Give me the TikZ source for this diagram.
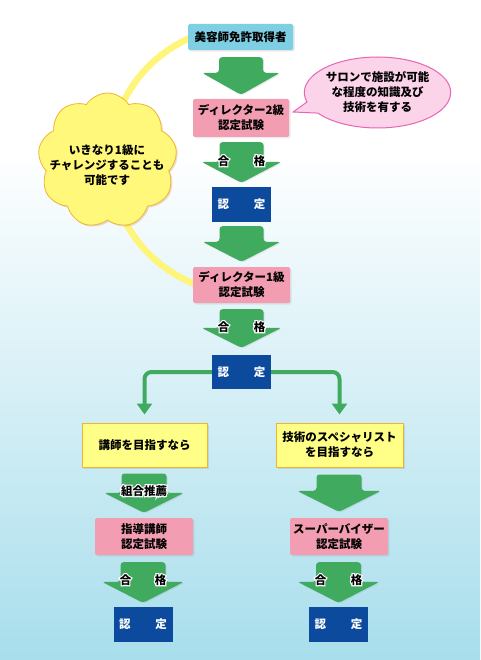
\documentclass[tikz,border=0pt]{standalone}
\usepackage{fontspec}
\setmainfont{Noto Sans CJK JP}
\newfontfamily\halofont{Noto Sans CJK JP}[FakeBold=20]
\usetikzlibrary{calc,shapes.symbols,shapes.callouts,shadows,arrows.meta}
\definecolor{bgblue}{RGB}{168,222,236}
\definecolor{licblue}{RGB}{126,206,228}
\definecolor{pinkfill}{RGB}{243,157,178}
\definecolor{okblue}{RGB}{12,74,158}
\definecolor{fatgreen}{RGB}{64,170,94}
\definecolor{ylfill}{RGB}{255,255,136}
\definecolor{ylborder}{RGB}{240,180,50}
\definecolor{cloudfill}{RGB}{255,248,122}
\definecolor{arcyellow}{RGB}{255,245,122}
\definecolor{bubblefill}{RGB}{252,212,234}
\definecolor{bubbleborder}{RGB}{232,100,180}
% fat block arrow between two nodes: #1 from, #2 to, #3 top gap, #4 bottom gap, #5 shaft half width, #6 head half width, #7 head length
\newcommand\fatarrow[7]{%
  \coordinate (T) at ($(#2.north |- #1.south)+(0,#3)$);
  \coordinate (P) at ($(#2.north)+(0,-#4)$);
  \coordinate (H) at ($(P)+(0,-#7)$);
  \fill[fatgreen, rounded corners=3pt, drop shadow={shadow xshift=1pt, shadow yshift=-1pt, opacity=.15}]
    ($(T)+(-#5,0)$) -- ($(H)+(-#5,0)$) -- ($(H)+(-#6,0)$) -- (P) --
    ($(H)+(#6,0)$) -- ($(H)+(#5,0)$) -- ($(T)+(#5,0)$) -- cycle;
}
% black text with white halo: #1 name, #2 position, #3 text
\newcommand\halo[3]{%
  \node[lbl] (#1) at ($#2$) {\rlap{\halofont\color{white}#3}#3};
}
\begin{document}
\begin{tikzpicture}[x=1pt,y=-1pt,
  font=\fontsize{11.5}{15}\selectfont\bfseries,
  base/.style={inner sep=0pt, align=center, text=black},
  libox/.style={base, fill=licblue, rounded corners=1.5pt,
    drop shadow={shadow xshift=1.5pt, shadow yshift=-1.5pt, opacity=.2}},
  pinkbox/.style={base, fill=pinkfill, rounded corners=1.5pt,
    drop shadow={shadow xshift=1.5pt, shadow yshift=-1.5pt, opacity=.15}},
  okbox/.style={base, fill=okblue, text=white, minimum width=59pt, minimum height=35pt},
  ylbox/.style={base, fill=ylfill, draw=ylborder, line width=1pt, minimum height=44pt,
    drop shadow={shadow xshift=1.5pt, shadow yshift=-1.5pt, opacity=.2}},
  lbl/.style={inner sep=0pt, text=black},
  branch/.style={draw=fatgreen, line width=4pt, rounded corners=7pt,
    -{Triangle[width=15pt,length=11pt]}, shorten >=8pt}
]
% background
\fill[white] (0,0) rectangle (480,150);
\shade[top color=white, bottom color=bgblue] (0,149.5) rectangle (480,660);
\useasboundingbox (0,0) rectangle (480,660);

% yellow arc behind everything
\draw[arcyellow, line width=6.5pt] plot[domain=110:248, samples=80, smooth]
  ({243+133*cos(\x)},{160+133*sin(\x)});

% main nodes
\node[libox, minimum width=105pt, minimum height=26pt] (lic) at (240.5,37) {美容師免許取得者};
\node[pinkbox, minimum width=96pt, minimum height=38pt] (d2) at (241,118) {ディレクター2級\\認定試験};
\node[okbox] (ok1) at (241.5,204.5) {認\hspace{25pt}定};
\node[pinkbox, minimum width=97pt, minimum height=36pt] (d1) at (241.5,285) {ディレクター1級\\認定試験};
\node[okbox, minimum height=34pt] (ok2) at (241.5,372) {認\hspace{25pt}定};
\node[ylbox, minimum width=125pt] (lect) at (144.5,445) {講師を目指すなら};
\node[ylbox, minimum width=127pt] (spec) at (339.5,445) {技術のスペシャリスト\\を目指すなら};
\node[pinkbox, minimum width=98pt, minimum height=37pt] (lt) at (144,536.5) {指導講師\\認定試験};
\node[pinkbox, minimum width=98pt, minimum height=37pt] (sv) at (339,536.5) {スーパーバイザー\\認定試験};
\node[okbox] (ok3) at (143,624.5) {認\hspace{25pt}定};
\node[okbox] (ok4) at (338.5,624.5) {認\hspace{25pt}定};

% speech bubble
\coordinate (ptr) at ($(d2.east)+(4,-6)$);
\node[ellipse callout, callout absolute pointer=(ptr), callout pointer arc=20,
  fill=bubblefill, draw=bubbleborder, line width=1pt, minimum width=145pt, minimum height=71pt,
  inner sep=0pt, align=center] (bubble) at (377.5,92.5) {サロンで施設が可能\\な程度の知識及び\\技術を有する};

% cloud
\node[cloud, cloud puffs=9, cloud puff arc=115, aspect=1.03, minimum width=139pt, minimum height=135pt,
  fill=cloudfill, draw=ylborder, line width=.8pt, inner sep=0pt,
  drop shadow={shadow xshift=1.5pt, shadow yshift=-1.5pt, opacity=.25, fill=brown}] (cloud) at (107.5,160.5) {};
\node[base] (cloudtxt) at (107,165) {いきなり1級に\\チャレンジすることも\\可能です};

% fat arrows
\fatarrow{lic}{d2}{7}{4}{22}{39}{22}
\fatarrow{d2}{ok1}{5}{4}{22}{40}{21}
\halo{g1a}{(H)+(-18,-1)}{合}
\halo{g1b}{(H)+(18,-1)}{格}
\fatarrow{ok1}{d1}{4}{5}{22}{39}{20}
\fatarrow{d1}{ok2}{6}{7}{22}{40}{20}
\halo{g2a}{(H)+(-18,-1)}{合}
\halo{g2b}{(H)+(18,-1)}{格}
\fatarrow{lect}{lt}{6}{5}{22.5}{40}{20}
\halo{rec}{(H)+(0,-2)}{組合推薦}
\fatarrow{lt}{ok3}{7}{4}{22.5}{41}{21}
\halo{g3a}{(H)+(-17.5,-2)}{合}
\halo{g3b}{(H)+(17.5,-2)}{格}
\fatarrow{spec}{sv}{7}{6}{22.5}{42}{21}
\fatarrow{sv}{ok4}{7}{4}{22.5}{41}{21}
\halo{g4a}{(H)+(-18,-2)}{合}
\halo{g4b}{(H)+(18,-2)}{格}

% branch connectors
\draw[branch] (ok2.west) -| (lect.north);
\draw[branch] (ok2.east) -| (spec.north);
\end{tikzpicture}
\end{document}
